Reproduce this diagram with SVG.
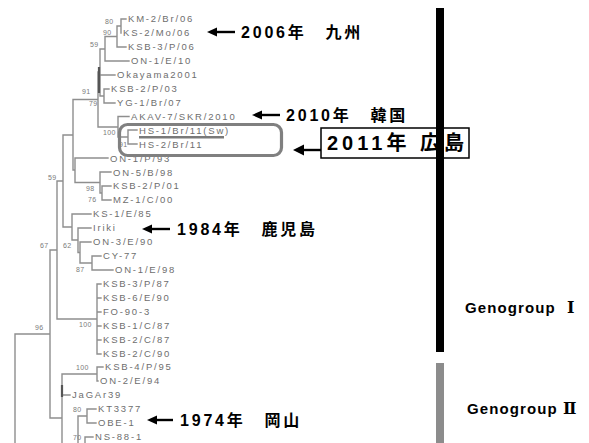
<svg xmlns="http://www.w3.org/2000/svg" width="589" height="443" viewBox="0 0 589 443">
<style>
.br{stroke:#8e8e8e;stroke-width:1.4;fill:none;stroke-linecap:square}
.dk{stroke:#555;stroke-width:2.2;fill:none}
.lf{font-family:"Liberation Sans",Arial,sans-serif;font-size:9.5px;letter-spacing:1.8px;fill:#6e6e6e}
.bs{font-family:"Liberation Sans",Arial,sans-serif;font-size:7px;letter-spacing:0.3px;fill:#7a7a7a}
.an{font-family:"Liberation Sans","Noto Sans CJK JP",sans-serif;font-size:16px;font-weight:bold;letter-spacing:2.8px;fill:#000}
.big{font-family:"Liberation Sans","Noto Sans CJK JP",sans-serif;font-size:20px;font-weight:bold;letter-spacing:4px;fill:#000}
.gg{font-family:"Liberation Sans","Noto Sans CJK JP",sans-serif;font-size:15px;font-weight:bold;letter-spacing:1.1px;fill:#000}
.rn{font-family:"DejaVu Serif","Liberation Serif","Noto Sans CJK JP",serif;font-weight:bold;font-size:16px;letter-spacing:0}
.ar{stroke:#000;stroke-width:2.4;fill:none}
.ah{fill:#000}
</style>
<g id="connectors">
<path class="br" d="M15,334V443M15,334H50
M50,250V418
M50,250H57M57,181V319
M57,181H63M63,135V227
M63,135H73M73,99.5V170
M73,99.5H98M98,72V127
M98,72H100M100,49V96
M100,49H105M105,36.5V61
M105,36.5H117M117,26V47
M117,26H121M121,19V33
M121,19H126M117,47H126M105,61H129
M100,75H115
M100,96H104M104,89V103M104,89H109M104,103H115
M98,127H118M118,116.5V137M118,116.5H129
M118,137H128M128,130V144M128,130H137M128,144H137
M73,170H75M75,158V182.5M75,158H108
M75,182.5H100M100,172V193M100,172H111
M100,193H102M102,186V200M102,186H111M102,200H111
M63,227H72M72,214V240M72,214H91
M72,240H78M78,228V252.5M78,228H91
M78,252.5H80M80,242V263M80,242H91
M80,263H92M92,256V270M92,256H101M92,270H113
M57,319H97M97,284V354
M97,284H101M97,298H101M97,312H101M97,326H101M97,340H101M97,354H101
M50,418H62M62,374V443
M62,374H97M97,367V381M97,367H103M97,381H98
M62,395H70
M78,416V443M78,416H87M87,409V423M87,409H96M87,423H96
M85,437V443M85,437H93"/>
<path class="dk" d="M99,67V93M62,385V397"/>
</g>
<g id="leaves">
<text class="lf" x="128" y="22.4">KM-2/Br/06</text>
<text class="lf" x="123" y="36.4">KS-2/Mo/06</text>
<text class="lf" x="128" y="50.4">KSB-3/P/06</text>
<text class="lf" x="131" y="64.4">ON-1/E/10</text>
<text class="lf" x="117" y="78.4">Okayama2001</text>
<text class="lf" x="111" y="92.4">KSB-2/P/03</text>
<text class="lf" x="117" y="106.4">YG-1/Br/07</text>
<text class="lf" x="131" y="119.9">AKAV-7/SKR/2010</text>
<text class="lf" x="139" y="133.8">HS-1/Br/11(Sw)</text>
<text class="lf" x="139" y="147.8">HS-2/Br/11</text>
<text class="lf" x="110" y="161.7">ON-1/P/93</text>
<text class="lf" x="113" y="175.6">ON-5/B/98</text>
<text class="lf" x="113" y="189.4">KSB-2/P/01</text>
<text class="lf" x="113" y="203.4">MZ-1/C/00</text>
<text class="lf" x="93" y="217.4">KS-1/E/85</text>
<text class="lf" x="93" y="231.4">Iriki</text>
<text class="lf" x="93" y="245.4">ON-3/E/90</text>
<text class="lf" x="103" y="259.4">CY-77</text>
<text class="lf" x="115" y="273.4">ON-1/E/98</text>
<text class="lf" x="103" y="287.4">KSB-3/P/87</text>
<text class="lf" x="103" y="301.4">KSB-6/E/90</text>
<text class="lf" x="103" y="315.4">FO-90-3</text>
<text class="lf" x="103" y="329.4">KSB-1/C/87</text>
<text class="lf" x="103" y="343.4">KSB-2/C/87</text>
<text class="lf" x="103" y="357.4">KSB-2/C/90</text>
<text class="lf" x="105" y="370.4">KSB-4/P/95</text>
<text class="lf" x="100" y="384.4">ON-2/E/94</text>
<text class="lf" x="72" y="398.4">JaGAr39</text>
<text class="lf" x="98" y="412.4">KT3377</text>
<text class="lf" x="98" y="426.4">OBE-1</text>
<text class="lf" x="95" y="440.4">NS-88-1</text>
</g>
<g id="bootstrap">
<text class="bs" x="105" y="24">80</text>
<text class="bs" x="103" y="35">90</text>
<text class="bs" x="90" y="47">59</text>
<text class="bs" x="82" y="94">91</text>
<text class="bs" x="89" y="106">79</text>
<text class="bs" x="103" y="135">100</text>
<text class="bs" x="119" y="147">91</text>
<text class="bs" x="86" y="191">98</text>
<text class="bs" x="88" y="202">76</text>
<text class="bs" x="48" y="180">59</text>
<text class="bs" x="40" y="248">67</text>
<text class="bs" x="63" y="248">62</text>
<text class="bs" x="76" y="272">87</text>
<text class="bs" x="79" y="327">100</text>
<text class="bs" x="35" y="330">96</text>
<text class="bs" x="76" y="370">100</text>
<text class="bs" x="73" y="412">80</text>
<text class="bs" x="73" y="440">70</text>
</g>
<g id="hs-highlight">
<rect x="139" y="136" width="85" height="2.5" fill="#7a7a7a"/>
<rect x="119.5" y="124.5" width="162" height="31" rx="8" ry="8" fill="none" stroke="#808080" stroke-width="3.2"/>
</g>
<g id="note-2006">
<path class="ah" d="M207,32L217,27.5V36.5Z"/>
<line class="ar" x1="215" y1="32" x2="235" y2="32"/>
<text class="an" x="241" y="37.5">2006年　九州</text>
</g>
<g id="note-2010">
<path class="ah" d="M252,115L262,110.5V119.5Z"/>
<line class="ar" x1="260" y1="115" x2="280" y2="115"/>
<text class="an" x="286" y="120.5">2010年　韓国</text>
</g>
<g id="note-2011">
<path class="ah" d="M293,150L304,144.5V155.5Z"/>
<line class="ar" x1="302" y1="150" x2="321" y2="150"/>
<rect x="321" y="128" width="148" height="30" fill="#fff" stroke="#000" stroke-width="1.5"/>
<text class="big" x="327" y="150">2011年 広島</text>
</g>
<g id="note-1984">
<path class="ah" d="M142,229L152,224.5V233.5Z"/>
<line class="ar" x1="150" y1="229" x2="170" y2="229"/>
<text class="an" x="177" y="235">1984年　鹿児島</text>
</g>
<g id="note-1974">
<path class="ah" d="M147,420L157,415.5V424.5Z"/>
<line class="ar" x1="155" y1="420" x2="173" y2="420"/>
<text class="an" x="180" y="426">1974年　岡山</text>
</g>
<g id="genogroup-1">
<rect x="436" y="8" width="8" height="344" fill="#000"/>
<text class="gg" x="465" y="313">Genogroup<tspan class="rn" x="567">Ⅰ</tspan></text>
</g>
<g id="genogroup-2">
<rect x="436" y="363" width="8" height="80" fill="#8c8c8c"/>
<text class="gg" x="467" y="414">Genogroup<tspan class="rn" x="563">Ⅱ</tspan></text>
</g>
</svg>
